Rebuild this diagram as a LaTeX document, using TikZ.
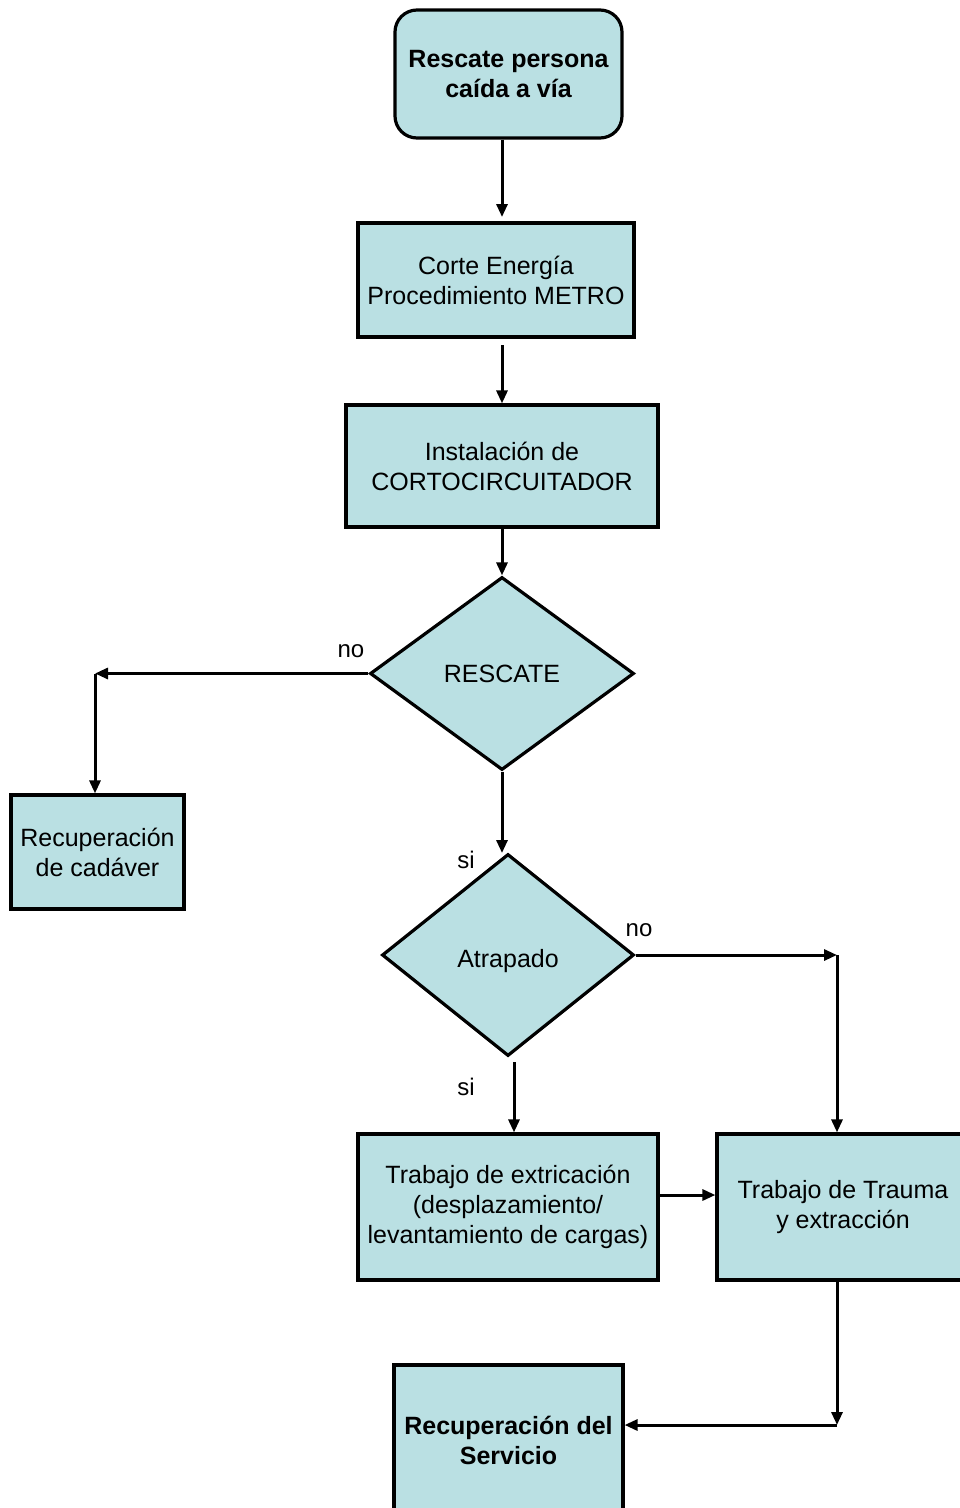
\documentclass[tikz,border=0pt]{standalone}
\usepackage{fontspec}
\setmainfont{Liberation Sans}
\usetikzlibrary{shapes.geometric,arrows.meta}
\definecolor{boxfill}{RGB}{186,224,227}
\begin{document}
\begin{tikzpicture}[x=1pt,y=-1pt,
  base/.style={draw=black,line width=3.2pt,fill=boxfill,align=center,inner sep=0pt,font=\fontsize{25}{30}\selectfont},
  procbox/.style={base,rectangle},
  startbox/.style={base,rectangle,rounded corners=22pt},
  decision/.style={base,diamond},
  arr/.style={line width=3pt,-{Triangle[length=13pt,width=11pt]}},
  lbl/.style={font=\fontsize{24}{28}\selectfont,inner sep=0pt}]
\useasboundingbox (0,0) rectangle (960,1508);
\clip (0,0) rectangle (960,1508);

\node[startbox,minimum width=227pt,minimum height=128pt,font=\bfseries\fontsize{25}{30}\selectfont] (start) at (508.5,74) {Rescate persona\\caída a vía};
\node[procbox,minimum width=276pt,minimum height=114pt] (corte) at (496,280) {Corte Energía\\Procedimiento METRO};
\node[procbox,minimum width=312pt,minimum height=122pt] (inst) at (502,466) {Instalación de\\CORTOCIRCUITADOR};
\node[decision,minimum width=264pt,minimum height=193pt] (rescate) at (502,673.5) {RESCATE};
\node[procbox,minimum width=173pt,minimum height=114pt] (recup) at (97.5,852) {Recuperación\\de cadáver};
\node[decision,minimum width=252pt,minimum height=202pt] (atrap) at (508,955) {\raisebox{-12pt}[0pt][0pt]{Atrapado}};
\node[procbox,minimum width=300pt,minimum height=146pt] (extric) at (508,1207) {Trabajo de extricación\\(desplazamiento/\\levantamiento de cargas)};
\node[procbox,minimum width=252pt,minimum height=146pt] (trauma) at (843,1207) {Trabajo de Trauma\\y extracción};
\node[procbox,minimum width=229pt,minimum height=150pt,font=\bfseries\fontsize{25}{30}\selectfont] (serv) at (508.5,1440) {Recuperación del\\Servicio};

\node[lbl] (no1) at (351,651) {no};
\node[lbl] (si1) at (466,860) {si};
\node[lbl] (no2) at (639,930) {no};
\node[lbl] (si2) at (466,1087) {si};

\coordinate (a1) at (502,217);
\draw[arr] (start.south -| a1) -- (a1);
\coordinate (a2) at (502,345);
\draw[arr] (a2) -- (a2 |- inst.north);
\draw[arr] (inst.south) -- (rescate.north);
\coordinate (k1) at (95,673.5);
\draw[arr] (rescate.west) -- (k1);
\draw[arr] (k1) -- (k1 |- recup.north);
\coordinate (a5) at (502,853);
\draw[arr] (rescate.south) -- (a5);
\coordinate (k2) at (837,953);
\draw[arr] (atrap.east) -- (atrap.east -| k2);
\draw[arr] (atrap.east -| k2) -- (k2 |- trauma.north);
\coordinate (a7) at (514,1062);
\draw[arr] (a7) -- (a7 |- extric.north);
\coordinate (a8) at (658,1195);
\draw[arr] (extric.east |- a8) -- (trauma.west |- a8);
\coordinate (k3) at (837,1425);
\draw[arr] (trauma.south -| k3) -- (k3);
\draw[arr] (k3) -- (serv.east |- k3);
\end{tikzpicture}
\end{document}
